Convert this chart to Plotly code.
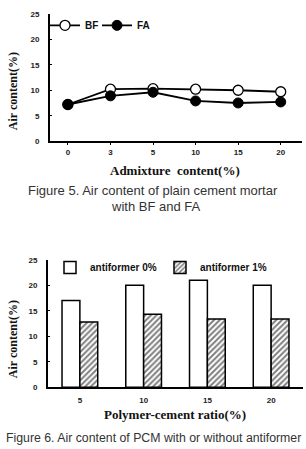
import plotly.graph_objects as go

# ---- data ----
admix_labels = ["0", "3", "5", "10", "15", "20"]
bf_values = [7.2, 10.2, 10.3, 10.2, 10.0, 9.7]
fa_values = [7.2, 8.9, 9.6, 7.9, 7.5, 7.7]

ratio_labels = ["5", "10", "15", "20"]
anti0_values = [17.0, 20.0, 21.0, 20.0]
anti1_values = [12.8, 14.3, 13.4, 13.4]

y_ticks = [0, 5, 10, 15, 20, 25]

W, H = 306, 449

def py(px):
    return 1 - px / H

def pxx(px):
    return px / W

fig = go.Figure()

tickfont = dict(family="Liberation Sans, Arial", size=8, color="#222", weight="bold")
serif_title = dict(family="Liberation Serif, Times New Roman", size=13, color="#111", weight="bold")
caption_font = dict(family="Liberation Sans, Arial", size=13, color="#333")
legend_font = dict(family="Liberation Sans, Arial", size=10, color="#111", weight="bold")

x_idx1 = list(range(len(admix_labels)))
fig.add_trace(go.Scatter(
    x=x_idx1, y=bf_values, name="BF", mode="lines+markers",
    line=dict(color="black", width=1.8),
    marker=dict(symbol="circle", size=10, color="white", line=dict(color="black", width=1.3)),
    xaxis="x", yaxis="y", legend="legend"))
fig.add_trace(go.Scatter(
    x=x_idx1, y=fa_values, name="FA", mode="lines+markers",
    line=dict(color="black", width=1.8),
    marker=dict(symbol="circle", size=10, color="black", line=dict(color="black", width=1)),
    xaxis="x", yaxis="y", legend="legend3"))

x_idx2 = list(range(len(ratio_labels)))
fig.add_trace(go.Bar(
    x=x_idx2, y=anti0_values, name="antiformer 0%",
    marker=dict(color="white", line=dict(color="black", width=1.5)),
    xaxis="x2", yaxis="y2", legend="legend2"))
fig.add_trace(go.Bar(
    x=x_idx2, y=anti1_values, name="antiformer 1%",
    marker=dict(color="white", line=dict(color="black", width=1.5),
                pattern=dict(shape="/", fgcolor="black", bgcolor="white", size=4, solidity=0.5)),
    xaxis="x2", yaxis="y2", legend="legend4"))

axis_common = dict(showgrid=False, zeroline=False, showline=True, linecolor="black",
                   linewidth=1.8, tickfont=tickfont, ticklen=2, tickcolor="black")

def leg(xpx, ypx):
    return dict(orientation="h", x=pxx(xpx), y=py(ypx), xanchor="left", yanchor="top",
                font=legend_font, bgcolor="rgba(0,0,0,0)", itemwidth=30)

fig.update_layout(
    width=W, height=H, margin=dict(l=0, r=0, t=0, b=0),
    paper_bgcolor="white", plot_bgcolor="white",
    barmode="group", bargap=0.44, bargroupgap=0,
    xaxis=dict(domain=[pxx(50), pxx(302)], range=[-0.42, 5.5], tickvals=x_idx1,
               ticktext=admix_labels, ticks="outside", anchor="y", **axis_common),
    yaxis=dict(domain=[py(140), py(10)], range=[0, 25], tickvals=y_ticks,
               ticks="inside", anchor="x", ticklabelstandoff=7, **axis_common),
    xaxis2=dict(domain=[pxx(48), pxx(303)], range=[-0.5, 3.5], tickvals=x_idx2,
                ticktext=ratio_labels, ticks="", anchor="y2", ticklabelstandoff=4, **axis_common),
    yaxis2=dict(domain=[py(391), py(261)], range=[0, 25], tickvals=y_ticks,
                ticks="inside", anchor="x2", ticklabelstandoff=7, **axis_common),
    legend=leg(45, 7),
    legend3=leg(97, 7),
    legend2=leg(50, 254),
    legend4=leg(160, 254),
    showlegend=True,
)

ann = []
ann.append(dict(text="Admixture  content(%)", x=pxx(175), y=py(170), xref="paper", yref="paper",
                showarrow=False, font=serif_title, xanchor="center", yanchor="middle"))
ann.append(dict(text="Air content(%)", x=pxx(13), y=py(89), xref="paper", yref="paper",
                showarrow=False, font=dict(serif_title, size=12), textangle=-90,
                xanchor="center", yanchor="middle"))
ann.append(dict(text="Figure 5. Air content of plain cement mortar", x=pxx(153), y=py(190),
                xref="paper", yref="paper", showarrow=False, font=caption_font,
                xanchor="center", yanchor="middle"))
ann.append(dict(text="with BF and FA", x=pxx(155), y=py(207),
                xref="paper", yref="paper", showarrow=False, font=caption_font,
                xanchor="center", yanchor="middle"))
ann.append(dict(text="Polymer-cement ratio(%)", x=pxx(175), y=py(419), xref="paper", yref="paper",
                showarrow=False, font=serif_title, xanchor="center", yanchor="middle"))
ann.append(dict(text="Air content(%)", x=pxx(13), y=py(342), xref="paper", yref="paper",
                showarrow=False, font=dict(serif_title, size=12), textangle=-90,
                xanchor="center", yanchor="middle"))
ann.append(dict(text="Figure 6. Air content of PCM with or without antiformer", x=pxx(153), y=py(443),
                xref="paper", yref="paper", showarrow=False, font=dict(caption_font, size=12.3),
                xanchor="center", yanchor="middle"))
fig.update_layout(annotations=ann)

fig.write_html("out.html")
